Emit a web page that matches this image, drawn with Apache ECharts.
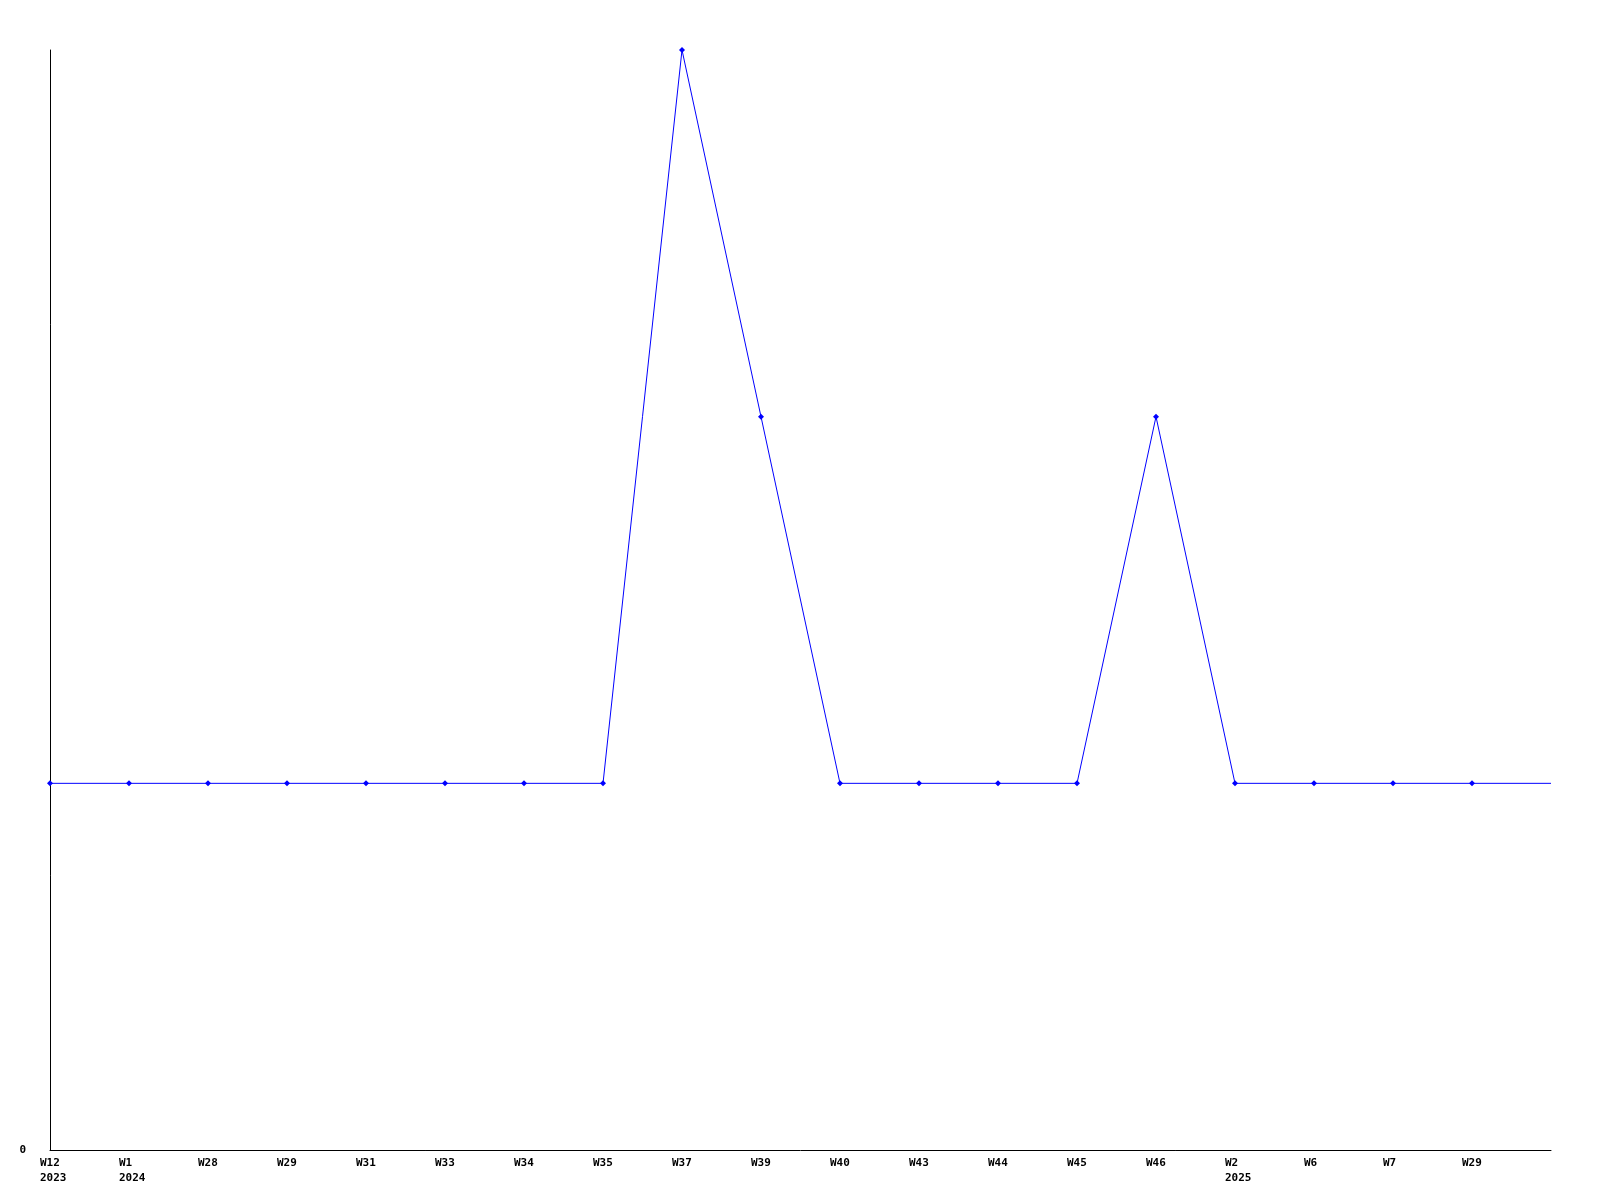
<!DOCTYPE html>
<html>
<head>
<meta charset="utf-8">
<script src="https://cdn.jsdelivr.net/npm/echarts@6/dist/echarts.min.js"></script>
<style>html,body{margin:0;padding:0;background:#fff;}#c{width:1600px;height:1200px;}</style>
</head>
<body>
<div id="c"></div>
<script>
const weeks = ['W12','W1','W28','W29','W31','W33','W34','W35','W37','W39','W40','W43','W44','W45','W46','W2','W6','W7','W29',''];
const years = ['2023','2024','','','','','','','','','','','','','','2025','','','',''];
const values = [1,1,1,1,1,1,1,1,3,2,1,1,1,1,2,1,1,1,1,1];
const yTicks = [0];

const cats = weeks.map((w,i)=> i + '|' + w + (years[i] ? '\n' + years[i] : ''));
const seriesData = values.map((v,i)=> i === values.length-1 ? {value:v, symbol:'none'} : v);

const chart = echarts.init(document.getElementById('c'), null, {renderer:'canvas'});
chart.setOption({
  animation:false,
  backgroundColor:'#ffffff',
  grid:{left:50, right:49, top:50, bottom:50, containLabel:false},
  xAxis:{
    type:'category',
    data:cats,
    boundaryGap:false,
    axisLine:{show:true, lineStyle:{color:'#000', width:1}},
    axisTick:{show:false},
    splitLine:{show:false},
    axisLabel:{
      interval:0,
      margin:6,
      align:'left',
      padding:[0,0,0,-10],
      fontFamily:'DejaVu Sans Mono',
      fontWeight:'bold',
      fontSize:11,
      lineHeight:15,
      color:'#000',
      formatter:(v)=> v.split('|')[1]
    }
  },
  yAxis:{
    type:'value',
    min:0, max:3, interval:1,
    axisLine:{show:true, lineStyle:{color:'#000', width:1}},
    axisTick:{show:false},
    splitLine:{show:false},
    axisLabel:{
      margin:24,
      fontFamily:'DejaVu Sans Mono',
      fontWeight:'bold',
      fontSize:11,
      color:'#000',
      formatter:(v)=> yTicks.includes(v) ? String(v) : ''
    }
  },
  series:[{
    type:'line',
    data:seriesData,
    symbol:'diamond',
    symbolSize:6,
    showAllSymbol:true,
    lineStyle:{color:'#0000ff', width:1},
    itemStyle:{color:'#0000ff'}
  }]
});
</script>
</body>
</html>
